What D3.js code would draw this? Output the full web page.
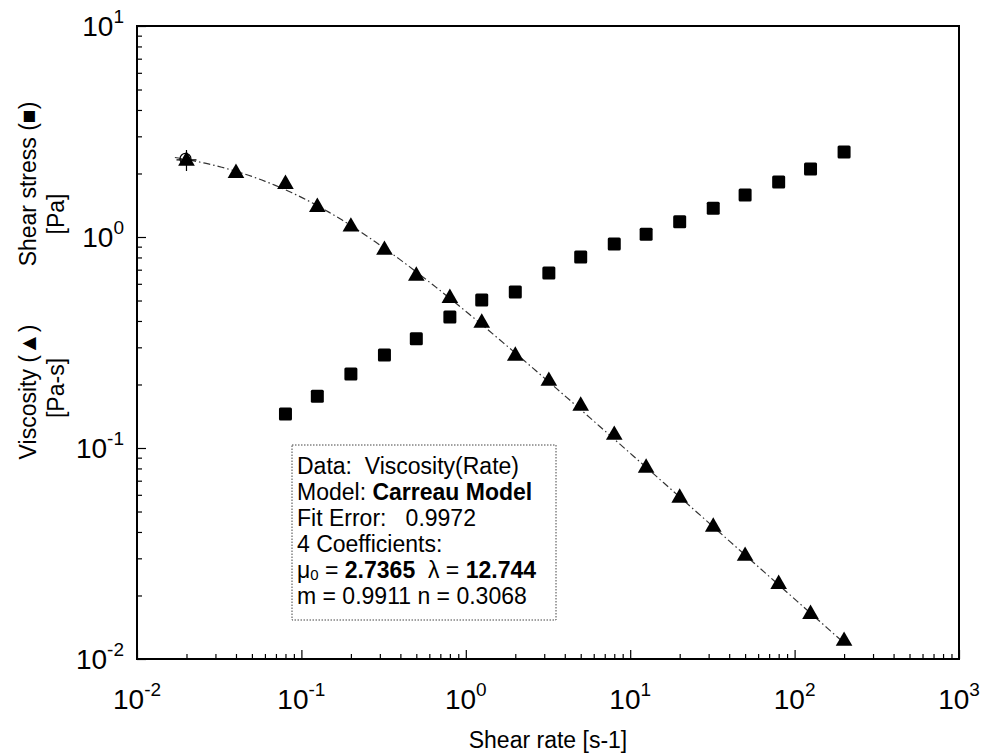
<!DOCTYPE html>
<html>
<head>
<meta charset="utf-8">
<script src="https://cdn.jsdelivr.net/npm/d3@7"></script>
<style>
  html, body { margin: 0; padding: 0; background: #fff; }
  svg { display: block; font-family: "Liberation Sans", Arial, sans-serif; }
  text { white-space: pre; }
</style>
</head>
<body>
<svg id="chart" width="987" height="754"></svg>
<script>
// Shear rates [1/s] of the measurement points
const shearRate = [0.02, 0.04, 0.08, 0.125, 0.2, 0.32, 0.5, 0.8, 1.25, 2, 3.2, 5, 8,
                   12.5, 20, 32, 50, 80, 125, 200];
// Viscosity [Pa-s] at every shear rate
const viscosity = [2.32, 2.03, 1.80, 1.40, 1.13, 0.877, 0.661, 0.519, 0.396, 0.276, 0.210,
                   0.160, 0.1165, 0.0813, 0.0586, 0.0427, 0.0311, 0.0229, 0.0165, 0.0123];
// Shear stress [Pa] from 0.08 1/s upwards
const stressRate = [0.08, 0.125, 0.2, 0.32, 0.5, 0.8, 1.25, 2, 3.2, 5, 8, 12.5, 20, 32,
                    50, 80, 125, 200];
const shearStress = [0.145, 0.176, 0.224, 0.276, 0.329, 0.418, 0.503, 0.549, 0.675, 0.804,
                     0.927, 1.03, 1.18, 1.37, 1.58, 1.82, 2.10, 2.53];
// Carreau model coefficients: mu0, lambda, m, n
const coefNames = ["mu0", "lambda", "m", "n"];
const coefValues = [2.7365, 12.744, 0.9911, 0.3068];
const fitRange = [0.017, 200];
// Axis decades
const xTickExp = [-2, -1, 0, 1, 2, 3];
const yTickExp = [-2, -1, 0, 1];

const svg = d3.select("#chart");
const L = 137, R = 959, T = 26, B = 659;
const x = d3.scaleLog().domain([1e-2, 1e3]).range([L, R]);
const y = d3.scaleLog().domain([1e-2, 1e1]).range([B, T]);

// Minor + major ticks (drawn inside the frame)
const minorX = [], minorY = [];
for (let e = -2; e < 3; e++) for (let k = 2; k <= 9; k++) minorX.push(k * Math.pow(10, e));
for (let e = -2; e < 1; e++) for (let k = 2; k <= 9; k++) minorY.push(k * Math.pow(10, e));
const majorVals = e => e.map(v => Math.pow(10, v));

const bottomAxis = d3.axisBottom(x).tickValues(minorX).tickSize(-5).tickFormat("");
const bottomMajor = d3.axisBottom(x).tickValues(majorVals(xTickExp)).tickSize(-9).tickFormat("");
const leftAxis = d3.axisLeft(y).tickValues(minorY).tickSize(-5).tickFormat("");
const leftMajor = d3.axisLeft(y).tickValues(majorVals(yTickExp)).tickSize(-9).tickFormat("");

[bottomAxis, bottomMajor].forEach(a => {
  svg.append("g").attr("transform", `translate(0,${B})`).call(a)
    .call(g => g.select(".domain").remove())
    .call(g => g.selectAll("line").attr("stroke", "#000").attr("stroke-width", 1.2));
});
[leftAxis, leftMajor].forEach(a => {
  svg.append("g").attr("transform", `translate(${L},0)`).call(a)
    .call(g => g.select(".domain").remove())
    .call(g => g.selectAll("line").attr("stroke", "#000").attr("stroke-width", 1.2));
});

// Frame
svg.append("rect").attr("x", L).attr("y", T).attr("width", R - L).attr("height", B - T)
  .attr("fill", "none").attr("stroke", "#000").attr("stroke-width", 2);

// Tick labels as 10 with superscript exponent
function powerLabel(sel, e) {
  sel.append("tspan").text("10");
  sel.append("tspan").attr("dy", -13).attr("font-size", 19).text(String(e));
}
xTickExp.forEach(e => {
  svg.append("text").attr("x", x(Math.pow(10, e))).attr("y", 709)
    .attr("text-anchor", "middle").attr("font-size", 28).attr("fill", "#000")
    .call(powerLabel, e);
});
yTickExp.forEach(e => {
  svg.append("text").attr("x", 124).attr("y", y(Math.pow(10, e)) + 10)
    .attr("text-anchor", "end").attr("font-size", 28).attr("fill", "#000")
    .call(powerLabel, e);
});

// Axis titles
svg.append("text").attr("x", 548).attr("y", 748).attr("text-anchor", "middle")
  .attr("font-size", 23).text("Shear rate [s-1]");
const yTitle = (txt, cx, cy) => svg.append("text")
  .attr("transform", `translate(${cx},${cy}) rotate(-90)`)
  .attr("text-anchor", "middle").attr("font-size", 23).text(txt);
yTitle("Shear stress (\u25A0)", 36, 184);
yTitle("[Pa]", 64, 214);
yTitle("Viscosity (\u25B2)", 36, 392);
yTitle("[Pa-s]", 64, 388);

// Carreau fit curve: eta = mu0 / (1 + (lambda*g)^m)^((1-n)/m)
const [mu0, lam, mExp, nIdx] = coefValues;
const fitX = d3.range(0, 201).map(i => fitRange[0] * Math.pow(fitRange[1] / fitRange[0], i / 200));
const fitPts = fitX.map(g => [g, mu0 / Math.pow(1 + Math.pow(lam * g, mExp), (1 - nIdx) / mExp)]);
svg.append("path").datum(fitPts)
  .attr("d", d3.line().x(d => x(d[0])).y(d => y(d[1])))
  .attr("fill", "none").attr("stroke", "#333").attr("stroke-width", 1.2)
  .attr("stroke-dasharray", "7,3,1.5,3");

// Shear stress squares
svg.append("g").selectAll("rect").data(stressRate.map((r, i) => [r, shearStress[i]]))
  .join("rect")
  .attr("x", d => x(d[0]) - 6.5).attr("y", d => y(d[1]) - 6.5)
  .attr("width", 13).attr("height", 13).attr("rx", 1.5).attr("fill", "#000");

// Viscosity triangles
const tri = d3.symbol().type(d3.symbolTriangle).size(120);
svg.append("g").selectAll("path").data(shearRate.map((r, i) => [r, viscosity[i]]))
  .join("path")
  .attr("d", tri)
  .attr("transform", d => `translate(${x(d[0])},${y(d[1]) + 1})`)
  .attr("fill", "#000");

// Start marker of the fit on the first point
const p0x = x(shearRate[0]), p0y = y(viscosity[0]);
svg.append("path")
  .attr("d", `M${p0x - 10},${p0y}H${p0x + 10}M${p0x},${p0y - 10}V${p0y + 11}`)
  .attr("stroke", "#000").attr("stroke-width", 1.2);
svg.append("circle").attr("cx", p0x - 1).attr("cy", p0y - 1).attr("r", 5.5)
  .attr("fill", "none").attr("stroke", "#000").attr("stroke-width", 1.2);

// Fit summary box
const bx = 292, by = 445, bw = 264, bh = 175;
svg.append("rect").attr("x", bx).attr("y", by).attr("width", bw).attr("height", bh)
  .attr("fill", "#fff").attr("stroke", "#444").attr("stroke-width", 1)
  .attr("stroke-dasharray", "1.5,1.5");
const lineY = i => 474 + i * 26;
const tx = 297;
const addLine = (i, parts) => {
  const t = svg.append("text").attr("x", tx).attr("y", lineY(i)).attr("font-size", 23);
  parts.forEach(p => {
    const s = t.append("tspan").text(p.t);
    if (p.b) s.attr("font-weight", "bold");
    if (p.sub) s.attr("font-size", 15).attr("dy", 2);
    if (p.up) s.attr("dy", -2);
  });
};
addLine(0, [{ t: "Data:  Viscosity(Rate)" }]);
addLine(1, [{ t: "Model: " }, { t: "Carreau Model", b: true }]);
addLine(2, [{ t: "Fit Error:   " + "0.9972" }]);
addLine(3, [{ t: coefNames.length + " Coefficients:" }]);
addLine(4, [{ t: "\u03BC" }, { t: "0", sub: true }, { t: " = ", up: true },
            { t: coefValues[0].toFixed(4), b: true }, { t: "  \u03BB = " },
            { t: coefValues[1].toFixed(3), b: true }]);
addLine(5, [{ t: "m = " + coefValues[2].toFixed(4) + " n = " + coefValues[3].toFixed(4) }]);
</script>
</body>
</html>
